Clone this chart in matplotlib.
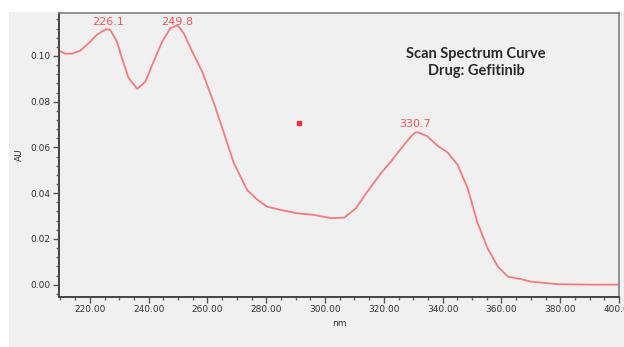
import numpy as np
import matplotlib
matplotlib.use("Agg")
import matplotlib.pyplot as plt
from matplotlib.ticker import MultipleLocator, FormatStrFormatter

# espectro (nm, AU)
wl = [209.5, 211.6, 213.9, 216.7, 219.6, 222.4, 225.2, 226.1, 226.9, 229.2,
      230.9, 233.2, 236.1, 238.9, 241.7, 244.6, 247.4, 249.8, 251.9, 254.8,
      258.2, 262.2, 265.6, 269.0, 273.5, 277.0, 280.3, 284.9, 290.6, 296.2,
      301.9, 306.5, 310.5, 314.4, 319.0, 322.4, 326.4, 329.2, 330.7, 331.5,
      334.9, 338.3, 341.7, 345.1, 348.5, 351.9, 355.3, 358.8, 362.2, 366.7,
      370.1, 375.0, 379.2, 390.0, 400.0]
au = [0.1023, 0.1010, 0.1010, 0.1023, 0.1056, 0.1093, 0.1115, 0.1117, 0.1115, 0.1063,
      0.0991, 0.0903, 0.0856, 0.0888, 0.0976, 0.1063, 0.1122, 0.1134, 0.1100, 0.1020,
      0.0932, 0.0794, 0.0663, 0.0531, 0.0414, 0.0371, 0.0341, 0.0327, 0.0312, 0.0305,
      0.0291, 0.0293, 0.0334, 0.0407, 0.0487, 0.0538, 0.0604, 0.0648, 0.0665, 0.0667,
      0.0648, 0.0607, 0.0578, 0.0524, 0.0422, 0.0269, 0.0159, 0.0079, 0.0035, 0.0024,
      0.0013, 0.0007, 0.0002, 0.0000, 0.0000]

picos = [226.1, 249.8, 330.7]
picos_au = [0.1117, 0.1134, 0.0667]
punto = (291.0, 0.0707)

titulo = "Scan Spectrum Curve\nDrug: Gefitinib"

fig = plt.figure(figsize=(6.24, 3.47), dpi=100)
fig.patch.set_facecolor("white")
# panel gris de fondo
fondo = fig.add_axes([9/624, 0, 1 - 9/624, 1 - 12/347], zorder=-5)
fondo.set_facecolor("#f0f0f0")
fondo.set_xticks([])
fondo.set_yticks([])
for s in fondo.spines.values():
    s.set_visible(False)

ax = fig.add_axes([59/624, 1 - 297/347, 560/624, 284/347])
ax.set_facecolor("#f0f0f0")

col = "#f47c7c"
ax.plot(wl, au, color=col, lw=1.3, solid_joinstyle="round")
ax.plot([punto[0]], [punto[1]], marker="s", ms=2.2, color="#e8303a", ls="none")

# etiquetas de picos, sin salirse por arriba
for p, a in zip(picos, picos_au):
    ax.text(p, min(a + 0.0036, 0.1150), "%.1f" % p, ha="center", va="center",
            color="#f25555", fontsize=8)

ax.text(0.745, 0.827, titulo, transform=ax.transAxes, ha="center", va="center",
        fontsize=10.5, fontweight="bold", family="Lato", color="#2a2a2a", linespacing=1.25)

ax.set_xlim(209.5, 400)
ax.set_ylim(-0.0054, 0.1188)
ax.xaxis.set_major_locator(MultipleLocator(20))
ax.xaxis.set_minor_locator(MultipleLocator(5))
ax.yaxis.set_major_locator(MultipleLocator(0.02))
ax.yaxis.set_minor_locator(MultipleLocator(0.004))
ax.xaxis.set_major_formatter(FormatStrFormatter("%.2f"))
ax.yaxis.set_major_formatter(FormatStrFormatter("%.2f"))
ax.tick_params(which="major", length=4, width=1, color="#555555", labelsize=6.5,
               labelcolor="#333333", pad=2)
ax.tick_params(which="minor", length=2.5, width=1, color="#666666")

for s in ["left", "bottom"]:
    ax.spines[s].set_color("#444444")
    ax.spines[s].set_linewidth(1.4)
for s in ["top", "right"]:
    ax.spines[s].set_color("#808080")
    ax.spines[s].set_linewidth(1.2)

ax.set_xlabel("nm", fontsize=6.5, color="#333333", labelpad=3)
ax.set_ylabel("AU", fontsize=6.5, color="#333333", labelpad=5)

plt.savefig("out.png", dpi=100)
